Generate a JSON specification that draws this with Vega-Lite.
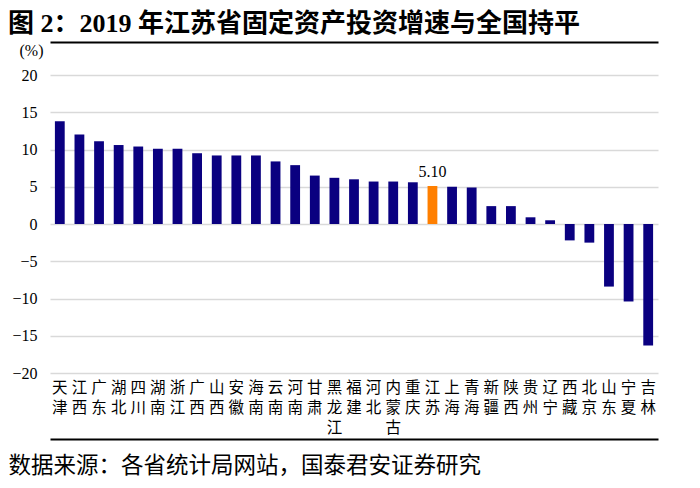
{
  "$schema": "https://vega.github.io/schema/vega-lite/v6.json",
  "autosize": {"type": "none"},
  "width": 608,
  "height": 298,
  "padding": {"left": 50, "top": 75, "right": 42, "bottom": 115},
  "background": "white",
  "config": {"view": {"stroke": null}},
  "title": {
    "text": "图 2：2019 年江苏省固定资产投资增速与全国持平",
    "anchor": "start",
    "frame": "group",
    "dx": -42,
    "font": "Liberation Serif, Noto Sans CJK SC",
    "fontSize": 26,
    "fontWeight": "bold",
    "color": "black",
    "offset": 5
  },
  "data": {
    "values": [
      {"province": "天津", "value": 13.8},
      {"province": "江西", "value": 12.0},
      {"province": "广东", "value": 11.1},
      {"province": "湖北", "value": 10.6},
      {"province": "四川", "value": 10.4},
      {"province": "湖南", "value": 10.1},
      {"province": "浙江", "value": 10.1},
      {"province": "广西", "value": 9.5},
      {"province": "山西", "value": 9.2},
      {"province": "安徽", "value": 9.2},
      {"province": "海南", "value": 9.2},
      {"province": "云南", "value": 8.4},
      {"province": "河南", "value": 7.9},
      {"province": "甘肃", "value": 6.5},
      {"province": "黑龙江", "value": 6.2},
      {"province": "福建", "value": 6.0},
      {"province": "河北", "value": 5.7},
      {"province": "内蒙古", "value": 5.7},
      {"province": "重庆", "value": 5.6},
      {"province": "江苏", "value": 5.1},
      {"province": "上海", "value": 5.0},
      {"province": "青海", "value": 4.9},
      {"province": "新疆", "value": 2.4},
      {"province": "陕西", "value": 2.4},
      {"province": "贵州", "value": 0.9},
      {"province": "辽宁", "value": 0.5},
      {"province": "西藏", "value": -2.2},
      {"province": "北京", "value": -2.5},
      {"province": "山东", "value": -8.4},
      {"province": "宁夏", "value": -10.4},
      {"province": "吉林", "value": -16.3}
    ]
  },
  "encoding": {
    "y": {
      "field": "value",
      "type": "quantitative",
      "scale": {"domain": [-20, 20], "nice": false},
      "axis": {
        "values": [-20, -15, -10, -5, 0, 5, 10, 15, 20],
        "labelOverlap": false,
        "domain": false,
        "ticks": false,
        "grid": true,
        "gridColor": "#d9d9d9",
        "gridWidth": 1.5,
        "labelPadding": 13,
        "labelFont": "Liberation Serif",
        "labelFontSize": 16,
        "labelColor": "black",
        "title": "(%)",
        "titleAngle": 0,
        "titleX": -19,
        "titleY": -25,
        "titleAlign": "center",
        "titleBaseline": "middle",
        "titleFont": "Liberation Serif",
        "titleFontSize": 16,
        "titleFontWeight": "normal",
        "titleColor": "black"
      }
    }
  },
  "layer": [
    {
      "mark": {"type": "bar"},
      "encoding": {
        "x": {
          "field": "province",
          "type": "nominal",
          "sort": null,
          "scale": {"paddingInner": 0.5, "paddingOuter": 0.25},
          "axis": {
            "orient": "bottom",
            "offset": 66,
            "domain": true,
            "domainColor": "black",
            "domainWidth": 2,
            "ticks": false,
            "grid": false,
            "labelAngle": 0,
            "labelPadding": -59,
            "labelBaseline": "top",
            "labelAlign": "center",
            "labelFont": "Noto Sans CJK SC",
            "labelFontSize": 15.5,
            "labelLineHeight": 20,
            "labelColor": "black",
            "labelOverlap": false,
            "labelExpr": "split(datum.label, '')",
            "title": "数据来源：各省统计局网站，国泰君安证券研究",
            "titleX": -42,
            "titleY": 26,
            "titleAlign": "left",
            "titleAnchor": "start",
            "titleBaseline": "middle",
            "titleFont": "Noto Sans CJK SC",
            "titleFontSize": 22.5,
            "titleFontWeight": "normal",
            "titleColor": "black"
          }
        },
        "color": {
          "condition": {"test": "datum.province === '江苏'", "value": "#ff7f00"},
          "value": "#0a0080"
        }
      }
    },
    {
      "mark": {"type": "text", "baseline": "bottom", "dy": -6, "font": "Liberation Serif", "fontSize": 16, "color": "black"},
      "encoding": {
        "x": {
          "field": "province",
          "type": "nominal",
          "sort": null,
          "axis": {
            "orient": "top",
            "offset": 33,
            "domain": true,
            "domainColor": "black",
            "domainWidth": 2,
            "ticks": false,
            "labels": false,
            "grid": false,
            "title": null
          }
        },
        "text": {
          "condition": {"test": "datum.province === '江苏'", "field": "value", "format": ".2f"},
          "value": ""
        }
      }
    }
  ],
  "resolve": {"axis": {"x": "independent"}}
}
